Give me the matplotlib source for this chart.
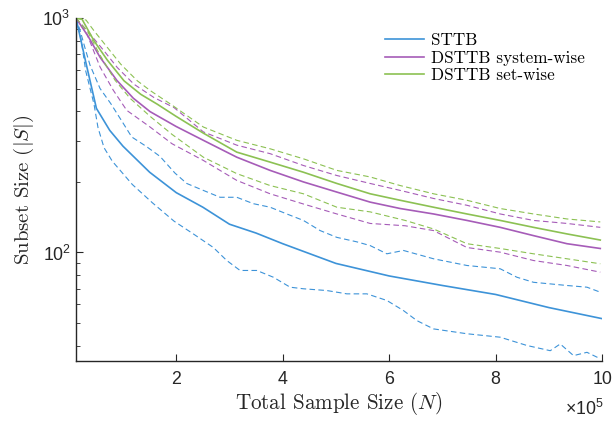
import matplotlib
matplotlib.use('Agg')
import matplotlib.pyplot as plt
from matplotlib.ticker import FuncFormatter
import numpy as np

# fonts: tick labels Helvetica-like, axis labels / legend in Computer Modern
plt.rcParams['font.family'] = ['Liberation Sans', 'DejaVu Sans']
plt.rcParams['mathtext.fontset'] = 'custom'
plt.rcParams['mathtext.rm'] = 'Liberation Sans'
plt.rcParams['mathtext.it'] = 'Liberation Sans:italic'

# data, N in units of 1e5
n_sttb = [0.117, 0.30, 0.50, 0.75, 1.0, 1.5, 2.0, 2.5, 3.0, 3.5, 4.0, 5.0, 6.0, 7.0, 8.0, 9.0, 10.0]
sttb = [1000, 649, 412, 332, 284, 220, 180, 156, 132, 121, 109, 89.8, 79.4, 72.3, 66.2, 58.2, 52.2]

n_sttb_lo = [0.117, 0.216, 0.299, 0.455, 0.530, 0.643, 0.799, 1.175, 1.551, 1.959, 2.321, 2.697,
             2.949, 3.199, 3.513, 3.825, 4.139, 4.389, 4.829, 5.205, 5.581, 5.957, 6.269, 6.521,
             6.833, 7.461, 8.086, 8.588, 9.026, 9.214, 9.464, 9.716, 9.966]
sttb_lo = [1000, 800, 595, 429, 341, 280, 245, 195, 163, 136, 120, 105,
           92.4, 83.8, 83.8, 78.4, 71.1, 70.0, 68.8, 66.6, 66.6, 62.4, 56.5, 51.2,
           47.2, 45.0, 43.5, 40.1, 38.1, 40.7, 36.3, 37.5, 35.2]

n_sttb_hi = [0.117, 0.192, 0.286, 0.380, 0.568, 0.769, 0.976, 1.164, 1.432, 1.695, 1.977, 2.197,
             2.509, 2.823, 3.137, 3.449, 3.763, 4.077, 4.389, 4.703, 5.017, 5.393, 5.643, 5.957,
             6.269, 6.833, 7.461, 8.086, 8.400, 8.712, 9.340, 9.716, 9.966]
sttb_hi = [1000, 889, 745, 630, 501, 432, 364, 311, 284, 257, 218, 197,
           184, 172, 172, 161.5, 156, 146, 137, 124, 116, 111, 107, 98.7,
           102, 94, 88.0, 85.2, 78.4, 74.6, 72.3, 71.1, 67.7]

n_sys = [0.117, 0.342, 0.568, 0.882, 1.194, 1.508, 1.996, 2.509, 3.137, 3.763, 4.389, 5.017,
         5.643, 6.207, 6.833, 7.461, 8.086, 8.712, 9.340, 9.966]
sys_mid = [1000, 838, 681, 543, 455, 399, 345, 301, 255, 224, 200, 181,
           164, 154, 146, 137, 128, 118, 109, 104]

n_sys_hi = [0.117, 0.329, 0.643, 0.893, 1.207, 1.583, 1.959, 2.509, 3.137, 3.763, 4.389, 5.017,
            5.643, 6.207, 6.833, 7.461, 8.086, 8.712, 9.340, 9.966]
sys_hi = [1000, 883, 725, 615, 522, 458, 415, 327, 287, 264, 235, 213,
          197, 184, 170, 159, 146, 137, 133, 128]

n_sys_lo = [0.117, 0.318, 0.568, 0.818, 1.070, 1.508, 1.921, 2.509, 3.137, 3.763, 4.389, 5.017,
            5.643, 6.301, 6.833, 7.461, 8.086, 8.712, 9.340, 9.966]
sys_lo = [1000, 860, 619, 492, 404, 343, 291, 247, 203, 178, 161, 146,
          133, 130, 124, 105, 100.3, 92.4, 88.0, 82.4]

n_set = [0.117, 0.229, 0.455, 0.705, 1.019, 1.333, 1.645, 1.996, 2.509, 3.137, 3.763, 4.389,
         5.017, 5.643, 6.207, 6.833, 7.461, 8.086, 8.712, 9.340, 9.966]
set_mid = [1000, 990, 800, 662, 540, 473, 429, 381, 323, 268, 243, 220,
           197, 178, 167, 156, 146, 137, 128, 120, 113]

n_set_hi = [0.117, 0.305, 0.455, 0.705, 0.957, 1.269, 1.521, 1.897, 2.509, 3.137, 3.763, 4.389,
            5.017, 5.643, 6.207, 6.833, 7.461, 8.086, 8.712, 9.340, 9.966]
set_hi = [1000, 981, 883, 750, 636, 540, 489, 429, 343, 301, 277, 251,
          224, 210, 193, 178, 167, 154, 146, 139, 135]

n_set_lo = [0.117, 0.342, 0.568, 0.850, 1.132, 1.508, 1.921, 2.509, 3.137, 3.763, 4.389, 5.017,
            5.643, 6.301, 6.833, 7.461, 8.086, 8.712, 9.340, 9.966]
set_lo = [1000, 871, 695, 543, 455, 381, 319, 255, 217, 193, 178, 156,
          149, 137, 126, 109, 104, 98.7, 94, 89.5]

labels = ['STTB', 'DSTTB system-wise', 'DSTTB set-wise']
colors = ['#3d93d8', '#a65cb8', '#8cc153']

fig = plt.figure(figsize=(6.15, 4.21), dpi=100)
ax = fig.add_axes([0.123, 0.143, 0.856, 0.814])

groups = [
    (n_sttb, sttb, n_sttb_lo, sttb_lo, n_sttb_hi, sttb_hi),
    (n_sys, sys_mid, n_sys_lo, sys_lo, n_sys_hi, sys_hi),
    (n_set, set_mid, n_set_lo, set_lo, n_set_hi, set_hi),
]
for (nm, ym, nl, yl, nh, yh), c, lab in zip(groups, colors, labels):
    ax.plot(np.array(nm) * 1e5, ym, color=c, lw=1.2, label=lab)
    ax.plot(np.array(nl) * 1e5, yl, color=c, lw=0.8, ls=(0, (5, 3)))
    ax.plot(np.array(nh) * 1e5, yh, color=c, lw=0.8, ls=(0, (5, 3)))

ax.set_yscale('log')
ax.set_xlim(1.1e4, 1e6)
ax.set_ylim(34.5, 1000)
ax.set_xticks([2e5, 4e5, 6e5, 8e5, 10e5])
ax.xaxis.set_major_formatter(FuncFormatter(lambda v, p: f'{v / 1e5:g}'))

for s in ['top', 'right']:
    ax.spines[s].set_visible(False)
for s in ['left', 'bottom']:
    ax.spines[s].set_linewidth(1.0)
    ax.spines[s].set_color('#262626')
ax.tick_params(which='both', direction='in', labelsize=12.8, colors='#262626')
ax.tick_params(which='major', length=5)
ax.tick_params(axis='x', pad=7)
ax.tick_params(which='minor', length=3)

# exponent label under the last x tick
ax.text(604 / 615, 1 - 415 / 421, '×$\\mathregular{10^{5}}$', transform=fig.transFigure,
        ha='right', va='baseline', fontsize=12.8, color='#262626')

ax.set_xlabel('Total Sample Size $(N)$', fontsize=15.2, family='cmr10', math_fontfamily='cm',
              color='#262626', labelpad=2)
ax.set_ylabel('Subset Size $(|S|)$', fontsize=15, family='cmr10', math_fontfamily='cm',
              color='#262626', labelpad=5)

leg = ax.legend(loc='upper left', bbox_to_anchor=(385 / 615, 1 - 33 / 421),
                bbox_transform=fig.transFigure, frameon=False, borderpad=0,
                borderaxespad=0, handlelength=2.3, handletextpad=0.4, labelspacing=0.12,
                prop={'family': 'cmr10', 'size': 12.3})

fig.savefig('out.png', dpi=100)
